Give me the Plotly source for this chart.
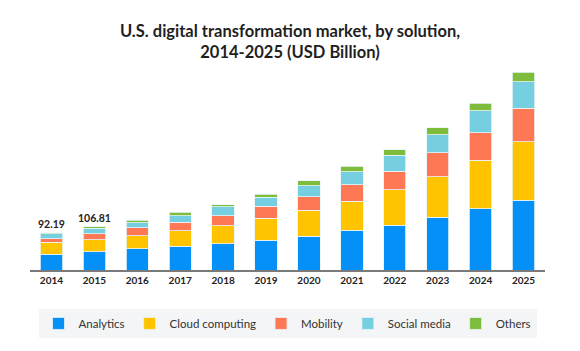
import plotly.graph_objects as go

years = ["2014", "2015", "2016", "2017", "2018", "2019", "2020", "2021", "2022", "2023", "2024", "2025"]
analytics = [38.4, 44.8, 51.7, 59.0, 64.0, 73.0, 83.6, 97.7, 110.0, 129.6, 150.1, 171.5]
cloud = [30.1, 29.0, 32.7, 36.9, 44.3, 54.1, 63.2, 71.3, 86.8, 99.1, 119.8, 143.4]
mobility = [8.1, 15.6, 19.7, 21.4, 25.6, 29.5, 32.7, 41.1, 46.0, 59.8, 67.9, 82.9]
social = [12.3, 13.1, 11.6, 16.5, 21.2, 22.1, 27.8, 31.2, 39.4, 44.3, 54.1, 64.7]
others = [3.29, 4.31, 6.6, 8.1, 5.9, 8.1, 12.3, 14.0, 13.0, 16.5, 18.2, 23.9]
total_labels = ["92.19", "106.81", "", "", "", "", "", "", "", "", "", ""]

series = [
    ("Analytics", analytics, "#0590f8"),
    ("Cloud computing", cloud, "#ffc300"),
    ("Mobility", mobility, "#ff7856"),
    ("Social media", social, "#76cfe0"),
    ("Others", others, "#7dbd3b"),
]

FONT = "Lato"

fig = go.Figure()
for name, vals, color in series:
    fig.add_trace(go.Bar(
        x=list(years), y=list(vals), name=name,
        marker_color=color, marker_line_color="#e8f4f8", marker_line_width=0.8,
    ))

totals = [sum(v) for v in zip(analytics, cloud, mobility, social, others)]
for i, (tot, lab) in enumerate(zip(totals, total_labels)):
    if lab:
        fig.add_annotation(x=i, y=tot, text=lab, showarrow=False, yanchor="bottom", yshift=1,
                           font=dict(family=FONT, size=10.5, color="#222", weight="bold"))

fig.update_layout(
    width=580, height=351,
    barmode="stack", bargap=0.48,
    paper_bgcolor="white", plot_bgcolor="white",
    margin=dict(l=30, r=35, t=65, b=81),
    title=dict(
        text="U.S. digital transformation market, by solution,<br>2014-2025 (USD Billion)",
        x=0.5, xanchor="center", y=0.895, yanchor="top",
        font=dict(family=FONT, size=16.5, color="#1f1f1f", weight="bold"),
    ),
    xaxis=dict(type="category", range=[-0.5, len(years) - 0.5], showline=True,
               linecolor="#7a7a7a", linewidth=1.5, ticks="", showgrid=False,
               tickfont=dict(family=FONT, size=10, color="#222", weight="bold")),
    yaxis=dict(range=[0, 504], showticklabels=False, showgrid=False, zeroline=False),
    legend=dict(orientation="h", x=0.5, xanchor="center", y=-0.19, yanchor="top",
                bgcolor="#f4f5f7", font=dict(family=FONT, size=11.5, color="#333"),
                traceorder="normal"),
    showlegend=True,
)

fig.write_html("out.html")
